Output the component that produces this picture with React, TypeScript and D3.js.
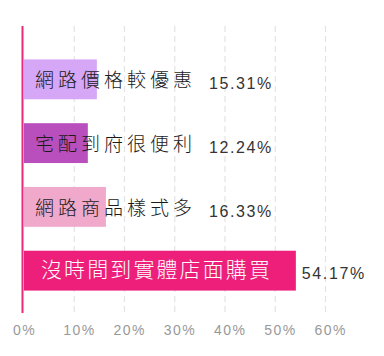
import React from "react";
import * as d3 from "d3";

const categories = ["網路價格較優惠", "宅配到府很便利", "網路商品樣式多", "沒時間到實體店面購買"];
const values = [14.5, 12.7, 16.3, 54.1];
const valueLabels = ["15.31%", "12.24%", "16.33%", "54.17%"];
const barColors = ["#d5a7f6", "#b94fbc", "#f1a9cb", "#ed1f7a"];
const textColors = ["#1a1a1a", "#1a1a1a", "#1a1a1a", "#ffffff"];
const ticks = [0, 10, 20, 30, 40, 50, 60];
const tickLabels = ["0%", "10%", "20%", "30%", "40%", "50%", "60%"];

export default function App() {
  const x = d3.scaleLinear().domain([0, 60]).range([24, 325.5]);
  const y = d3
    .scaleBand<string>()
    .domain(categories)
    .range([35.5, 314.5])
    .padding(0.375);
  const bw = y.bandwidth();
  const cjk = "'Noto Sans CJK TC', 'Noto Sans CJK SC', sans-serif";
  const latin = "'Liberation Sans', Arial, sans-serif";

  return (
    <svg
      width={384}
      height={356}
      style={{ position: "absolute", left: 0, top: 0, background: "#fff" }}
    >
      {ticks.slice(1).map((t) => (
        <line
          key={"g" + t}
          x1={x(t)}
          x2={x(t)}
          y1={26}
          y2={313}
          stroke="#e3e3e3"
          strokeWidth={1.2}
          strokeDasharray="6 4"
        />
      ))}
      {categories.map((c, i) => {
        const y0 = y(c)!;
        const cy = y0 + bw / 2;
        const last = i === categories.length - 1;
        const fs = last ? 21 : 19;
        const ls = last ? 2.1 : 4;
        const tx = last ? 41 : 35;
        const textEnd = tx + c.length * (fs + ls) - ls;
        const lx = Math.max(x(values[i]) + 6, textEnd + 17);
        return (
          <g key={c}>
            <rect
              x={x(0)}
              y={y0}
              width={x(values[i]) - x(0)}
              height={bw}
              fill={barColors[i]}
            />
            <text
              x={tx}
              y={cy + (last ? 6.5 : 7.7)}
              fill={textColors[i]}
              fontFamily={cjk}
              fontSize={fs}
              fontWeight={300}
              letterSpacing={ls}
            >
              {c}
            </text>
            <text
              x={lx}
              y={cy + (last ? 8.8 : 9.7)}
              fill="#333"
              fontFamily={latin}
              fontSize={16}
              letterSpacing={1.6}
            >
              {valueLabels[i]}
            </text>
          </g>
        );
      })}
      <line x1={22.5} x2={22.5} y1={26} y2={313} stroke="#ea2a7b" strokeWidth={2} />
      {ticks.map((t, i) => (
        <text
          key={"t" + t}
          x={x(t) - 11}
          y={335}
          fill="#999"
          fontFamily={latin}
          fontSize={14}
          letterSpacing={1.5}
        >
          {tickLabels[i]}
        </text>
      ))}
    </svg>
  );
}
